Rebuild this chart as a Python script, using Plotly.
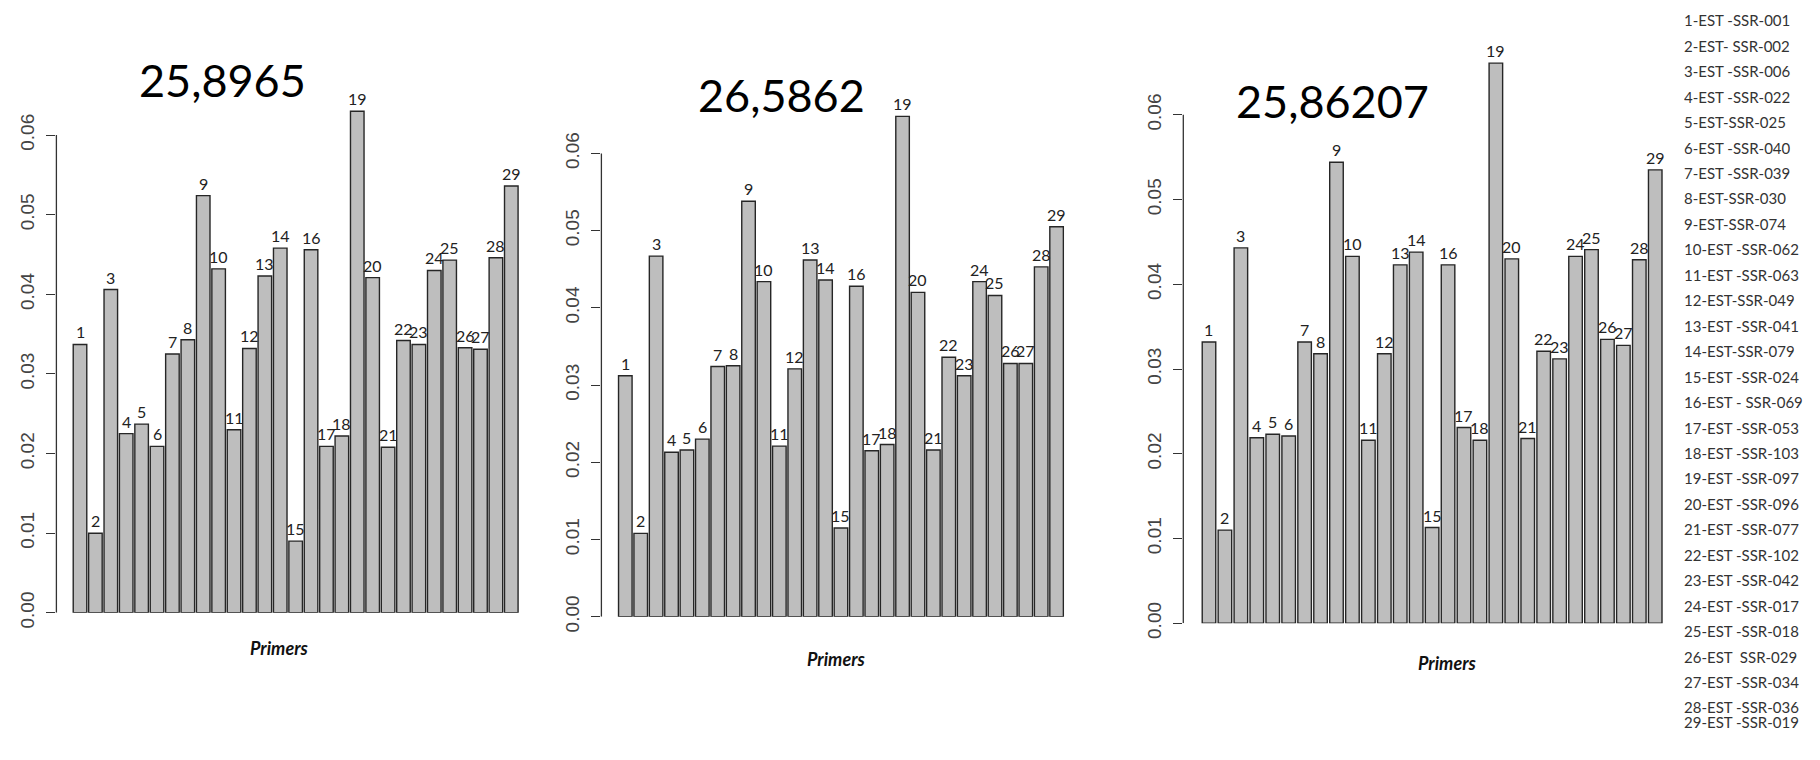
import plotly.graph_objects as go

# ---- data -------------------------------------------------------------
primer_ids = list(range(1, 30))

panel_titles = ["25,8965", "26,5862", "25,86207"]

values_25_8965 = [0.0337, 0.0100, 0.0406, 0.0225, 0.0237, 0.0209, 0.0325, 0.0343, 0.0524,
                  0.0432, 0.0230, 0.0332, 0.0423, 0.0458, 0.0090, 0.0456, 0.0209, 0.0222,
                  0.0630, 0.0421, 0.0208, 0.0342, 0.0337, 0.0430, 0.0443, 0.0333, 0.0331,
                  0.0446, 0.0536]

values_26_5862 = [0.0312, 0.0108, 0.0467, 0.0213, 0.0216, 0.0230, 0.0324, 0.0325, 0.0538,
                  0.0434, 0.0221, 0.0321, 0.0462, 0.0436, 0.0115, 0.0428, 0.0215, 0.0223,
                  0.0648, 0.0420, 0.0216, 0.0336, 0.0312, 0.0434, 0.0416, 0.0328, 0.0328,
                  0.0453, 0.0505]

values_25_86207 = [0.0332, 0.0110, 0.0443, 0.0219, 0.0223, 0.0221, 0.0332, 0.0318, 0.0544,
                   0.0433, 0.0216, 0.0318, 0.0423, 0.0438, 0.0113, 0.0423, 0.0231, 0.0216,
                   0.0661, 0.0430, 0.0218, 0.0321, 0.0312, 0.0433, 0.0441, 0.0335, 0.0328,
                   0.0429, 0.0535]

y_tick_vals = [0.00, 0.01, 0.02, 0.03, 0.04, 0.05, 0.06]
y_tick_text = ["0.00", "0.01", "0.02", "0.03", "0.04", "0.05", "0.06"]

primer_names = [
    "1-EST -SSR-001", "2-EST- SSR-002", "3-EST -SSR-006", "4-EST -SSR-022",
    "5-EST-SSR-025", "6-EST -SSR-040", "7-EST -SSR-039", "8-EST-SSR-030",
    "9-EST-SSR-074", "10-EST -SSR-062", "11-EST -SSR-063", "12-EST-SSR-049",
    "13-EST -SSR-041", "14-EST-SSR-079", "15-EST -SSR-024", "16-EST - SSR-069",
    "17-EST -SSR-053", "18-EST -SSR-103", "19-EST -SSR-097", "20-EST -SSR-096",
    "21-EST -SSR-077", "22-EST -SSR-102", "23-EST -SSR-042", "24-EST -SSR-017",
    "25-EST -SSR-018", "26-EST  SSR-029", "27-EST -SSR-034", "28-EST -SSR-036",
    "29-EST -SSR-019",
]

series = [values_25_8965, values_26_5862, values_25_86207]

# ---- layout geometry (pixels of the 1820 x 760 page) -------------------
W, H = 1820, 760
Y_MAX = 0.07
panels = [
    # axis x, right edge, zero line y, 0.06 line y, x range start, bar width, title pos, xlabel pos
    dict(ax=56.4, right=519.0, zero=626.0, top06=138.0, xmin=-0.532, bw=0.88,
         title=(222, 82), xlab=(279, 662)),
    dict(ax=601.4, right=1064.3, zero=630.0, top06=156.7, xmin=-0.552, bw=0.88,
         title=(781, 97), xlab=(836, 673)),
    dict(ax=1183.3, right=1663.2, zero=636.7, top06=117.3, xmin=-0.612, bw=0.85,
         title=(1332, 103), xlab=(1447, 677)),
]

BAR_FILL = "#bebebe"
BAR_EDGE = "#262626"
LABEL_FONT = "Lato, 'Open Sans', sans-serif"

fig = go.Figure()
shapes = []
annotations = []

for i, (p, vals, title) in enumerate(zip(panels, series, panel_titles), start=1):
    xa = "x" if i == 1 else f"x{i}"
    ya = "y" if i == 1 else f"y{i}"
    ppu = (p["zero"] - p["top06"]) / 0.06
    top_px = p["zero"] - Y_MAX * ppu

    fig.add_trace(go.Bar(
        x=primer_ids, y=vals, width=p["bw"],
        marker=dict(color=BAR_FILL, line=dict(color=BAR_EDGE, width=1.4)),
        xaxis=xa, yaxis=ya, showlegend=False, hoverinfo="skip",
    ))

    # primer number written just above each bar
    for pid, v in zip(primer_ids, vals):
        annotations.append(dict(
            text=str(pid), xref=xa, yref=ya, x=pid, y=v,
            xanchor="center", yanchor="bottom", yshift=1, showarrow=False,
            font=dict(family=LABEL_FONT, size=16, color="#222222"),
        ))

    fig.layout[f"xaxis{'' if i == 1 else i}"] = dict(
        domain=[p["ax"] / W, p["right"] / W], range=[p["xmin"], 29.5],
        showticklabels=False, showgrid=False, zeroline=False, showline=False,
        ticks="", anchor=ya, fixedrange=True,
    )
    fig.layout[f"yaxis{'' if i == 1 else i}"] = dict(
        domain=[1 - p["zero"] / H, 1 - top_px / H], range=[0, Y_MAX],
        tickvals=y_tick_vals, ticktext=y_tick_text, tickangle=-90,
        ticks="outside", ticklen=9, tickwidth=1.3, tickcolor="#333333",
        ticklabelstandoff=5,
        tickfont=dict(family="'Liberation Sans', Arial, sans-serif", size=19, color="#444444"),
        showgrid=False, zeroline=False, showline=False, anchor=xa, fixedrange=True,
    )

    # R-style axis line running from 0 to the last tick only
    shapes.append(dict(
        type="line", xref=f"{xa} domain", yref=ya, x0=0, x1=0, y0=0, y1=0.06,
        line=dict(color="#333333", width=1.3),
    ))

    annotations.append(dict(
        text=title, xref="paper", yref="paper",
        x=p["title"][0] / W, y=1 - p["title"][1] / H, xanchor="center", yanchor="middle",
        showarrow=False, font=dict(family=LABEL_FONT, size=45, color="#000000"),
    ))
    annotations.append(dict(
        text="<b><i>Primers</i></b>", xref="paper", yref="paper",
        x=p["xlab"][0] / W, y=1 - p["xlab"][1] / H, xanchor="center", yanchor="middle",
        showarrow=False, font=dict(family=LABEL_FONT, size=18, color="#111111"),
    ))

# primer key on the right-hand side
KEY_X = 1682
KEY_TOP = 20.7
KEY_STEP = 26.0
for j, name in enumerate(primer_names):
    y_px = KEY_TOP + j * KEY_STEP if j < 28 else KEY_TOP + 27 * KEY_STEP + 15
    annotations.append(dict(
        text=name, xref="paper", yref="paper",
        x=KEY_X / W, y=1 - y_px / H, xanchor="left", yanchor="middle", height=14,
        showarrow=False, font=dict(family=LABEL_FONT, size=15, color="#333333"),
    ))

fig.update_layout(
    width=W, height=H, margin=dict(l=0, r=0, t=0, b=0),
    paper_bgcolor="white", plot_bgcolor="white",
    bargap=0.12, shapes=shapes, annotations=annotations,
)

fig.write_html("out.html", config={"displayModeBar": False})
